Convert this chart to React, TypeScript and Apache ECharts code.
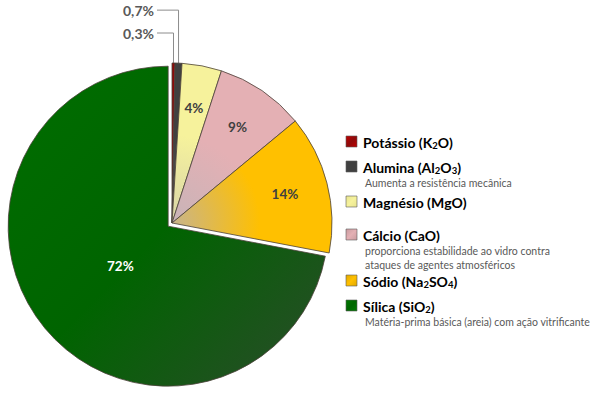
import React, { useEffect, useRef } from "react";
import * as echarts from "echarts";

// ---- data ----
const componentNames = ["Potássio", "Alumina", "Magnésio", "Cálcio", "Sódio", "Sílica"];
const formulas = ["K_2O", "Al_2O_3", "MgO", "CaO", "Na_2SO_4", "SiO_2"];
const percentages = [0.3, 0.7, 4, 9, 14, 72];
const descriptions = [
  "",
  "Aumenta a resistência mecânica",
  "",
  "proporciona estabilidade ao vidro contra\nataques de agentes atmosféricos",
  "",
  "Matéria-prima básica (areia) com ação vitrificante",
];

// ---- styles / layout ----
const baseColors = ["#8e0a0a", "#404040", "#f6f29c", "#e4b0b4", "#ffc000", "#006600"];
const innerColors = ["#7a1010", "#555555", "#d8d4a8", "#c8b4b8", "#c8b48c", "#006c00"];
const iconColors = ["#c00000", "#404040", "#e8e490", "#c89ca0", "#e0a800", "#007a00"];
const CX = 172;
const CY = 223;
const R = 160;
const FONT = "Lato, 'Open Sans', sans-serif";
const LEGEND_X = 346;
const LEGEND_Y = [142, 167, 202, 235, 281, 306];

function fmtPct(v: number) {
  return String(v).replace(".", ",") + "%";
}

function richFormula(f: string) {
  let out = "";
  for (let i = 0; i < f.length; i++) {
    if (f[i] === "_") {
      out += "{s|" + f[i + 1] + "}";
      i++;
    } else {
      out += "{t|" + f[i] + "}";
    }
  }
  return out;
}

function sliceColor(i: number) {
  if (i === 5) {
    return new echarts.graphic.LinearGradient(0, 0, 1, 1, [
      { offset: 0, color: "#006e00" },
      { offset: 0.5, color: "#006400" },
      { offset: 1, color: "#2c4a2c" },
    ]);
  }
  return new echarts.graphic.RadialGradient(
    CX,
    CY,
    R,
    [
      { offset: 0, color: innerColors[i] },
      { offset: 0.55, color: baseColors[i] },
      { offset: 1, color: baseColors[i] },
    ],
    true
  );
}

export default function App() {
  const ref = useRef<HTMLDivElement>(null);

  useEffect(() => {
    if (!ref.current) return;
    const chart = echarts.init(ref.current, undefined, { renderer: "svg" });

    const mainData = componentNames.map((n, i) => ({
      name: n,
      value: percentages[i],
      selected: i === 5,
      itemStyle: { color: sliceColor(i) },
      label: i < 2 ? { show: true, position: "outside" } : { show: false },
      labelLine: i < 2 ? { show: true, length: 10, length2: 10 } : { show: false },
    }));

    const labelData = (show: (i: number) => boolean, color: string) =>
      componentNames.map((n, i) => ({
        name: n,
        value: percentages[i],
        label: { show: show(i), color },
      }));

    const legendElements: any[] = [];
    componentNames.forEach((n, i) => {
      const y = LEGEND_Y[i];
      legendElements.push({
        type: "rect",
        shape: { x: LEGEND_X, y: y - 6, width: 11, height: 11 },
        style: {
          fill: new echarts.graphic.LinearGradient(0, 0, 1, 1, [
            { offset: 0, color: iconColors[i] },
            { offset: 0.5, color: baseColors[i] },
            { offset: 1, color: iconColors[i] },
          ]),
          stroke: "#5a5a5a",
          lineWidth: 0.6,
        },
      });
      legendElements.push({
        type: "text",
        x: LEGEND_X + 17,
        y: y,
        style: {
          text: "{t|" + n + " (}" + richFormula(formulas[i]) + "{t|)}",
          verticalAlign: "middle",
          rich: {
            t: { fontFamily: FONT, fontSize: 14, fontWeight: "bold", color: "#404040", lineHeight: 17 },
            s: { fontFamily: FONT, fontSize: 9.5, fontWeight: "bold", color: "#404040", lineHeight: 7, verticalAlign: "bottom" },
          },
        },
      });
      if (descriptions[i]) {
        legendElements.push({
          type: "text",
          x: LEGEND_X + 19,
          y: y + 9,
          style: {
            text: descriptions[i],
            fontFamily: FONT,
            fontSize: 10.5,
            lineHeight: 14,
            fill: "#595959",
            verticalAlign: "top",
          },
        });
      }
    });

    const pctLabel = {
      position: "inside",
      formatter: (p: any) => fmtPct(p.value),
      fontFamily: FONT,
      fontSize: 13.5,
      fontWeight: "bold",
    };

    chart.setOption({
      animation: false,
      backgroundColor: "#ffffff",
      graphic: legendElements,
      series: [
        {
          type: "pie",
          center: [CX, CY],
          radius: R,
          startAngle: 90,
          clockwise: true,
          selectedMode: "single",
          selectedOffset: 5,
          avoidLabelOverlap: false,
          itemStyle: { borderColor: "#4a4038", borderWidth: 0.8 },
          emphasis: { disabled: true },
          select: { itemStyle: { borderColor: "#4a4038", borderWidth: 0.8 } },
          label: {
            formatter: (p: any) => fmtPct(p.value),
            fontFamily: FONT,
            fontSize: 14,
            fontWeight: "bold",
            color: "#595959",
          },
          labelLine: { lineStyle: { color: "#8c8c8c", width: 1 } },
          labelLayout: (p: any) => {
            if (p.dataIndex > 1) return {};
            const pts = p.labelLinePoints;
            let sx: number, sy: number;
            if (pts && pts.length) {
              sx = pts[0][0];
              sy = pts[0][1];
            } else {
              sx = p.rect.x + p.rect.width;
              sy = p.rect.y;
            }
            const rise = p.dataIndex === 0 ? 30 : 53;
            const by = sy - rise;
            const ex = CX - 15;
            return {
              x: ex - 3,
              y: by,
              align: "right",
              verticalAlign: "middle",
              labelLinePoints: [
                [sx, sy],
                [sx, by],
                [ex, by],
              ],
            };
          },
          data: mainData,
        },
        {
          type: "pie",
          center: [CX, CY],
          radius: R * 1.42,
          startAngle: 90,
          silent: true,
          emphasis: { disabled: true },
          itemStyle: { color: "rgba(0,0,0,0)" },
          labelLine: { show: false },
          label: pctLabel,
          data: labelData((i) => i >= 2 && i <= 4, "#404040"),
        },
        {
          type: "pie",
          center: [CX, CY],
          radius: R * 0.8,
          startAngle: 90,
          silent: true,
          emphasis: { disabled: true },
          itemStyle: { color: "rgba(0,0,0,0)" },
          labelLine: { show: false },
          label: pctLabel,
          data: labelData((i) => i === 5, "#ffffff"),
        },
      ],
    });

    return () => chart.dispose();
  }, []);

  return (
    <div
      ref={ref}
      style={{ position: "fixed", left: 0, top: 0, width: 600, height: 395 }}
    />
  );
}
